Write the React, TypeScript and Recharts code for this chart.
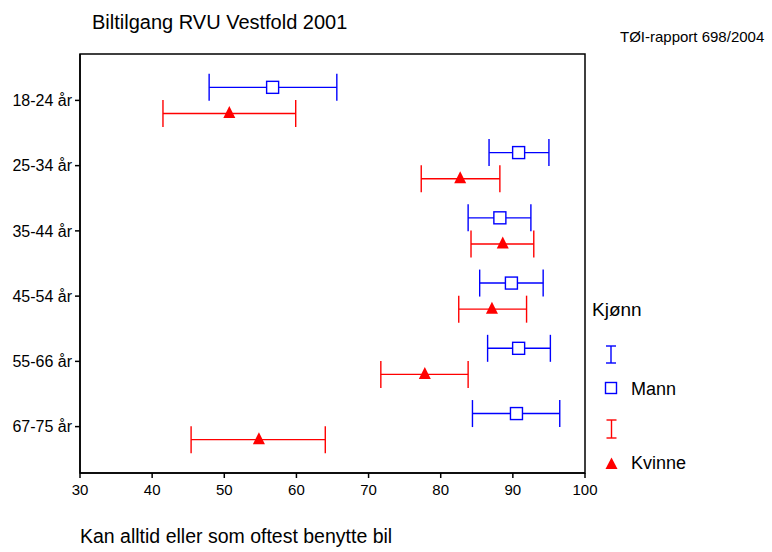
import React from 'react';
import { ScatterChart, Scatter, XAxis, YAxis, ErrorBar, ReferenceArea } from 'recharts';

const categories = ['18-24 år', '25-34 år', '35-44 år', '45-54 år', '55-66 år', '67-75 år'];
const mannMean = [56.7, 90.8, 88.2, 89.8, 90.8, 90.5];
const mannLow = [47.9, 86.7, 83.8, 85.4, 86.5, 84.4];
const mannHigh = [65.6, 95.0, 92.5, 94.2, 95.2, 96.5];
const kvinneMean = [50.7, 82.7, 88.6, 87.1, 77.8, 54.8];
const kvinneLow = [41.5, 77.3, 84.2, 82.5, 71.7, 45.4];
const kvinneHigh = [59.9, 88.2, 92.9, 91.9, 83.8, 64.0];
const xTicks = [30, 40, 50, 60, 70, 80, 90, 100];
const yTicks = [0, 1, 2, 3, 4, 5];

const title = 'Biltilgang RVU Vestfold 2001';
const source = 'TØI-rapport 698/2004';
const xTitle = 'Kan alltid eller som oftest benytte bil';
const legendTitle = 'Kjønn';
const seriesNames = ['Mann', 'Kvinne'];

const BLUE = '#0000ff';
const RED = '#ff0000';
const FONT = '"Liberation Sans", Arial, sans-serif';
const OFFSET = 0.2;

const mannData = categories.map((c, i) => ({
  name: c,
  x: mannMean[i],
  y: i - OFFSET,
  err: [mannMean[i] - mannLow[i], mannHigh[i] - mannMean[i]],
}));
const kvinneData = categories.map((c, i) => ({
  name: c,
  x: kvinneMean[i],
  y: i + OFFSET,
  err: [kvinneMean[i] - kvinneLow[i], kvinneHigh[i] - kvinneMean[i]],
}));

const SquareShape = (props: any) => {
  const { cx, cy } = props;
  return <rect x={cx - 6} y={cy - 6} width={12} height={12} fill="#fff" stroke={BLUE} strokeWidth={1.4} />;
};
const TriangleShape = (props: any) => {
  const { cx, cy } = props;
  return <polygon points={`${cx},${cy - 7.5} ${cx - 6},${cy + 4.5} ${cx + 6},${cy + 4.5}`} fill={RED} stroke="none" />;
};

export default function App() {
  return (
    <div style={{ position: 'absolute', left: 0, top: 0, width: 772, height: 552, background: '#fff', fontFamily: FONT }}>
      <ScatterChart width={772} height={552} margin={{ top: 54, right: 187, bottom: 0, left: 0 }}>
        <XAxis
          type="number"
          dataKey="x"
          domain={[30, 100]}
          ticks={xTicks}
          allowDataOverflow
          height={79}
          tickSize={5}
          tickMargin={6}
          stroke="#000"
          strokeWidth={1.5}
          tick={{ fill: '#000', fontSize: 15, fontFamily: FONT }}
        />
        <YAxis
          type="number"
          dataKey="y"
          domain={[-0.711, 5.711]}
          reversed
          ticks={yTicks}
          allowDataOverflow
          width={80}
          tickSize={5}
          tickMargin={3}
          stroke="#000"
          strokeWidth={1.5}
          tickFormatter={(v: number) => categories[v] ?? ''}
          tick={{ fill: '#000', fontSize: 16, fontFamily: FONT }}
        />
        <ReferenceArea x1={30} x2={100} y1={-0.711} y2={5.711} fill="none" stroke="#000" strokeWidth={1.5} ifOverflow="visible" />
        <Scatter data={mannData} name={seriesNames[0]} shape={SquareShape} isAnimationActive={false}>
          <ErrorBar dataKey="err" direction="x" width={13.5} stroke={BLUE} strokeWidth={1.4} isAnimationActive={false} />
        </Scatter>
        <Scatter data={kvinneData} name={seriesNames[1]} shape={TriangleShape} isAnimationActive={false}>
          <ErrorBar dataKey="err" direction="x" width={13.5} stroke={RED} strokeWidth={1.4} isAnimationActive={false} />
        </Scatter>
      </ScatterChart>
      <svg width={772} height={552} style={{ position: 'absolute', left: 0, top: 0, pointerEvents: 'none' }}>
        <text x={92} y={29} fontSize={20} fontFamily={FONT} fill="#000">{title}</text>
        <text x={620} y={42} fontSize={15} fontFamily={FONT} fill="#000">{source}</text>
        <text x={80} y={543} fontSize={19.5} fontFamily={FONT} fill="#000">{xTitle}</text>
        <text x={592} y={316} fontSize={19} fontFamily={FONT} fill="#000">{legendTitle}</text>
        <g stroke={BLUE} strokeWidth={1.4}>
          <line x1={611} y1={346} x2={611} y2={363} />
          <line x1={606} y1={346} x2={616} y2={346} />
          <line x1={606} y1={363} x2={616} y2={363} />
        </g>
        <rect x={605.5} y={382.5} width={11} height={11} fill="#fff" stroke={BLUE} strokeWidth={1.4} />
        <text x={631} y={395} fontSize={18} fontFamily={FONT} fill="#000">{seriesNames[0]}</text>
        <g stroke={RED} strokeWidth={1.4}>
          <line x1={611.5} y1={420} x2={611.5} y2={438} />
          <line x1={606.5} y1={420} x2={616.5} y2={420} />
          <line x1={606.5} y1={438} x2={616.5} y2={438} />
        </g>
        <polygon points="611.5,457.5 605.5,469 617.5,469" fill={RED} />
        <text x={631} y={469} fontSize={18} fontFamily={FONT} fill="#000">{seriesNames[1]}</text>
      </svg>
    </div>
  );
}
